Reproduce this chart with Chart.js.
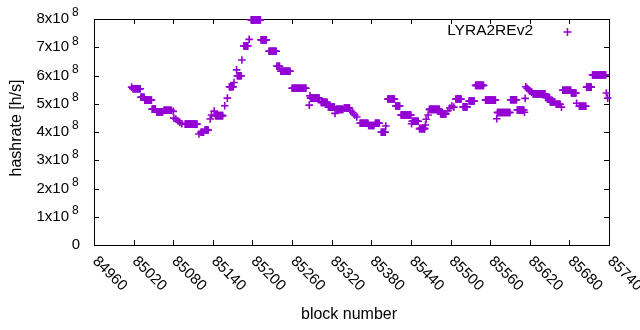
<!DOCTYPE html>
<html>
<head>
<meta charset="utf-8">
<script src="https://cdn.jsdelivr.net/npm/chart.js@4"></script>
<style>
  html, body { margin: 0; padding: 0; background: #fff; }
  #wrap { width: 640px; height: 330px; }
</style>
</head>
<body>
<div id="wrap"><canvas id="hashChart" width="640" height="330"></canvas></div>
<script>
// --- DATA (hashrate in units of 10^8 h/s) ---
// runs of consecutive blocks that share the same hashrate estimate
const runFrom = [85019, 85031, 85037, 85048, 85055, 85066, 85098, 85122, 85128, 85144,
                 85165, 85177, 85187, 85198, 85213, 85225, 85237, 85243, 85260, 85288,
                 85304, 85315, 85327, 85339, 85363, 85376, 85386, 85395, 85405, 85417,
                 85425, 85442, 85453, 85468, 85485, 85508, 85519, 85528, 85538, 85553,
                 85571, 85591, 85601, 85625, 85644, 85651, 85660, 85670, 85683, 85695,
                 85706, 85715];
const runTo   = [85030, 85036, 85047, 85053, 85064, 85077, 85116, 85126, 85133, 85155,
                 85171, 85183, 85193, 85212, 85221, 85236, 85241, 85257, 85281, 85301,
                 85313, 85324, 85337, 85347, 85375, 85384, 85392, 85401, 85415, 85423,
                 85440, 85451, 85461, 85483, 85493, 85516, 85525, 85536, 85550, 85568,
                 85590, 85600, 85611, 85643, 85650, 85658, 85666, 85682, 85690, 85705,
                 85713, 85735];
const runRate = [5.53, 5.23, 5.13, 4.81, 4.71, 4.77, 4.28, 3.99, 4.07, 4.58,
                 5.60, 5.99, 7.05, 7.97, 7.26, 6.86, 6.33, 6.15, 5.55, 5.20,
                 5.05, 4.88, 4.80, 4.85, 4.31, 4.23, 4.31, 3.99, 5.17, 4.92,
                 4.60, 4.38, 4.12, 4.80, 4.64, 5.17, 4.89, 5.10, 5.65, 5.13,
                 4.69, 5.14, 4.78, 5.35, 5.22, 5.06, 4.98, 5.48, 5.38, 4.91,
                 5.59, 6.02];

// isolated blocks
const soloBlock = [85017, 85080, 85081, 85084, 85087, 85090, 85093, 85119, 85136, 85138,
                   85142, 85158, 85162, 85172, 85176, 85184, 85195, 85286, 85287, 85325,
                   85349, 85352, 85355, 85358, 85402, 85441, 85462, 85463, 85466, 85496,
                   85499, 85502, 85505, 85570, 85612, 85613, 85614, 85616, 85618, 85620,
                   85623, 85668, 85691, 85736, 85738];
const soloRate  = [5.59, 4.73, 4.49, 4.46, 4.40, 4.34, 4.29, 3.93, 4.46, 4.60,
                   4.74, 4.93, 5.20, 5.75, 6.20, 6.55, 7.28, 4.95, 5.28, 4.66,
                   4.74, 4.68, 4.60, 4.53, 4.21, 4.29, 4.25, 4.45, 4.60, 4.75,
                   4.85, 4.92, 4.88, 4.47, 4.70, 5.19, 5.60, 5.55, 5.50, 5.45,
                   5.41, 4.88, 5.02, 5.38, 5.20];

const xTicks = [84960, 85020, 85080, 85140, 85200, 85260, 85320, 85380, 85440, 85500,
                85560, 85620, 85680, 85740];
const yTicks = [0, 1, 2, 3, 4, 5, 6, 7, 8];
const yExponent = '8';
const seriesName = 'LYRA2REv2';

const PURPLE = '#9400d3';
const FONT = '"Liberation Sans", Arial, sans-serif';

// --- TABELA DE PONTOS ---
const points = [];
runFrom.forEach((from, i) => {
    for (let b = from; b <= runTo[i]; b++) points.push({ x: b, y: runRate[i] });
});
soloBlock.forEach((b, i) => points.push({ x: b, y: soloRate[i] }));

// moldura, ticks e textos no estilo gnuplot
const gnuplotFrame = {
    id: 'gnuplotFrame',
    beforeDatasetsDraw(chart) {
        const { ctx, chartArea: a, scales: { x, y } } = chart;
        ctx.save();
        ctx.strokeStyle = '#000';
        ctx.lineWidth = 1;
        ctx.strokeRect(a.left + 0.5, a.top + 0.5, a.right - a.left, a.bottom - a.top);
        ctx.beginPath();
        xTicks.forEach(v => {
            const px = Math.round(x.getPixelForValue(v)) + 0.5;
            ctx.moveTo(px, a.bottom); ctx.lineTo(px, a.bottom - 5);
            ctx.moveTo(px, a.top); ctx.lineTo(px, a.top + 5);
        });
        yTicks.forEach(v => {
            const py = Math.round(y.getPixelForValue(v)) + 0.5;
            ctx.moveTo(a.left, py); ctx.lineTo(a.left + 5, py);
            ctx.moveTo(a.right, py); ctx.lineTo(a.right - 5, py);
        });
        ctx.stroke();
        ctx.restore();
    },
    afterDraw(chart) {
        const { ctx, chartArea: a, scales: { x, y } } = chart;
        ctx.save();
        ctx.fillStyle = '#000';

        // y tick labels: N x10^8
        ctx.textBaseline = 'middle';
        yTicks.forEach(v => {
            const py = y.getPixelForValue(v);
            ctx.font = '15px ' + FONT;
            ctx.textAlign = 'right';
            if (v === 0) {
                ctx.fillText('0', 80, py);
                return;
            }
            ctx.fillText(v + 'x10', 69, py);
            ctx.font = '12px ' + FONT;
            ctx.textAlign = 'left';
            ctx.fillText(yExponent, 72, py - 6);
        });

        // x tick labels rotated by -45 (gnuplot)
        ctx.font = '15px ' + FONT;
        ctx.textAlign = 'left';
        xTicks.forEach(v => {
            const px = x.getPixelForValue(v);
            ctx.save();
            ctx.translate(px + 1, a.bottom + 14);
            ctx.rotate(Math.PI / 4);
            ctx.fillText(String(v), 0, 0);
            ctx.restore();
        });

        // axis titles
        ctx.font = '16px ' + FONT;
        ctx.textAlign = 'center';
        ctx.fillText('block number', 349, 315);
        ctx.save();
        ctx.translate(17, 128);
        ctx.rotate(-Math.PI / 2);
        ctx.fillText('hashrate [h/s]', 0, 0);
        ctx.restore();

        // key
        ctx.font = '15.5px ' + FONT;
        ctx.textAlign = 'right';
        ctx.fillText(seriesName, 533, 31);
        ctx.strokeStyle = PURPLE;
        ctx.lineWidth = 1.5;
        ctx.beginPath();
        ctx.moveTo(563.5, 32); ctx.lineTo(571.5, 32);
        ctx.moveTo(567.5, 28); ctx.lineTo(567.5, 36);
        ctx.stroke();
        ctx.restore();
    }
};

const ctx = document.getElementById('hashChart').getContext('2d');
new Chart(ctx, {
    type: 'scatter',
    data: {
        datasets: [{
            label: seriesName,
            data: points,
            pointStyle: 'cross',
            pointRadius: 3.8,
            pointHoverRadius: 3.8,
            borderColor: PURPLE,
            backgroundColor: PURPLE,
            borderWidth: 1.6,
            clip: false
        }]
    },
    options: {
        responsive: false,
        animation: false,
        events: [],
        layout: { padding: { top: 19, right: 31, left: 0, bottom: 0 } },
        plugins: { legend: { display: false }, tooltip: { enabled: false } },
        scales: {
            x: {
                type: 'linear', min: 84960, max: 85740,
                ticks: { display: false, stepSize: 60 },
                grid: { display: false }, border: { display: false },
                afterFit: s => { s.height = 85; }
            },
            y: {
                min: 0, max: 8,
                ticks: { display: false, stepSize: 1 },
                grid: { display: false }, border: { display: false },
                afterFit: s => { s.width = 94; }
            }
        }
    },
    plugins: [gnuplotFrame]
});
</script>
</body>
</html>
